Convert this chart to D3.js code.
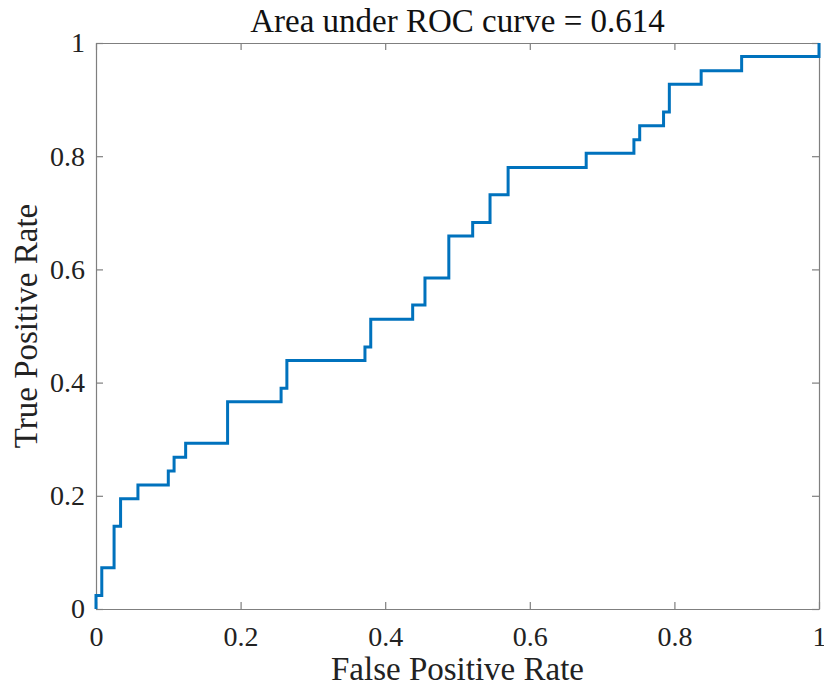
<!DOCTYPE html>
<html>
<head>
<meta charset="utf-8">
<script src="https://cdn.jsdelivr.net/npm/d3@7"></script>
<style>
  body { margin: 0; background: #fff; }
</style>
</head>
<body>
<script>
// ROC step corners: x = false positive rate, y = true positive rate
var fpr = [0, 0, 0.008, 0.025, 0.034, 0.058, 0.100, 0.108, 0.124, 0.182, 0.256, 0.264,
           0.372, 0.380, 0.438, 0.455, 0.488, 0.521, 0.545, 0.570, 0.678, 0.744, 0.752,
           0.785, 0.793, 0.837, 0.893, 1];
var tpr = [0, 0.024, 0.073, 0.146, 0.195, 0.219, 0.244, 0.268, 0.293, 0.366, 0.390, 0.439,
           0.463, 0.512, 0.537, 0.585, 0.659, 0.683, 0.732, 0.780, 0.805, 0.829, 0.854,
           0.878, 0.927, 0.951, 0.976, 1];
var xTicks = [0, 0.2, 0.4, 0.6, 0.8, 1];
var yTicks = [0, 0.2, 0.4, 0.6, 0.8, 1];
var title = "Area under ROC curve = 0.614";

var serif = "'Liberation Serif', 'Times New Roman', Times, serif";

var margin = {top: 43, right: 5, bottom: 82, left: 96},
    width = 824 - margin.left - margin.right,
    height = 691 - margin.top - margin.bottom;

var svg = d3.select("body").append("svg")
    .attr("width", 824)
    .attr("height", 691)
    .style("font-family", serif)
  .append("g")
    .attr("transform", "translate(" + margin.left + "," + margin.top + ")");

var x = d3.scaleLinear().domain([0, 1]).range([0, width]);
var y = d3.scaleLinear().domain([0, 1]).range([height, 0]);

var axisColor = "#7f7f7f";

function styleAxis(g) {
  g.attr("font-family", null);
  g.select(".domain").attr("stroke", axisColor).attr("stroke-width", 1.2);
  g.selectAll(".tick line").attr("stroke", axisColor).attr("stroke-width", 1.2);
  g.selectAll(".tick text")
      .style("font-family", serif)
      .style("font-size", "28px")
      .attr("fill", "#222");
}

// bottom / top
svg.append("g")
    .attr("transform", "translate(0," + height + ")")
    .call(d3.axisBottom(x).tickValues(xTicks).tickFormat(d3.format("")).tickSizeInner(-7).tickSizeOuter(0).tickPadding(17))
    .call(styleAxis);
svg.append("g")
    .call(d3.axisTop(x).tickValues(xTicks).tickFormat("").tickSizeInner(-7).tickSizeOuter(0))
    .call(styleAxis);
// left / right
svg.append("g")
    .call(d3.axisLeft(y).tickValues(yTicks).tickFormat(d3.format("")).tickSizeInner(-7).tickSizeOuter(0).tickPadding(11))
    .call(styleAxis);
svg.append("g")
    .attr("transform", "translate(" + width + ",0)")
    .call(d3.axisRight(y).tickValues(yTicks).tickFormat("").tickSizeInner(-7).tickSizeOuter(0))
    .call(styleAxis);

var pts = fpr.map(function(d, i) { return [d, tpr[i]]; });

var line = d3.line()
    .x(function(d) { return x(d[0]); })
    .y(function(d) { return y(d[1]); })
    .curve(d3.curveStepAfter);

svg.append("path")
    .datum(pts)
    .attr("fill", "none")
    .attr("stroke", "#0072bd")
    .attr("stroke-width", 3)
    .attr("d", line);

// title and axis labels
svg.append("text")
    .attr("x", width / 2)
    .attr("y", -11)
    .attr("text-anchor", "middle")
    .style("font-family", serif)
    .style("font-size", "33px")
    .attr("fill", "#111")
    .text(title);

svg.append("text")
    .attr("x", width / 2)
    .attr("y", height + 71)
    .attr("text-anchor", "middle")
    .style("font-family", serif)
    .style("font-size", "33px")
    .attr("fill", "#222")
    .text("False Positive Rate");

svg.append("text")
    .attr("transform", "translate(-59," + (height / 2) + ") rotate(-90)")
    .attr("text-anchor", "middle")
    .style("font-family", serif)
    .style("font-size", "33px")
    .attr("fill", "#222")
    .text("True Positive Rate");
</script>
</body>
</html>
